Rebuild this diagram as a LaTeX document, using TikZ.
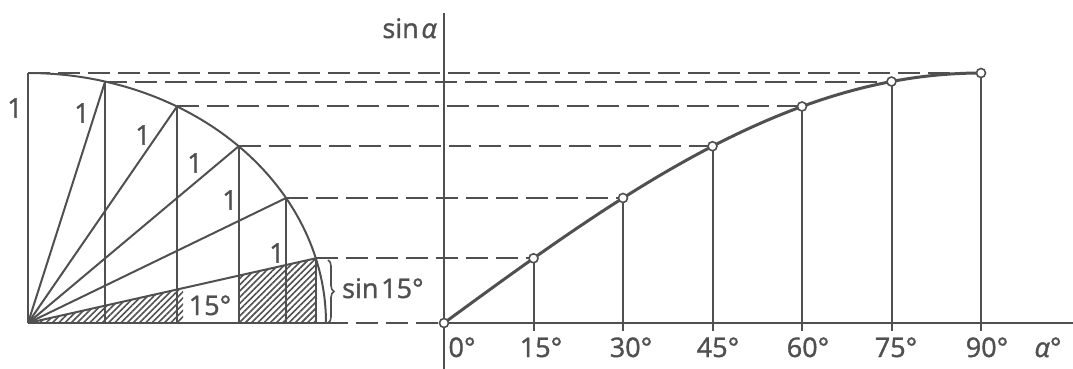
\documentclass[tikz,border=0pt]{standalone}
\usepackage{fontspec}
\setmainfont{Open Sans}
\newfontfamily\lblfont{Open Sans}[FakeBold=1.3]
\usetikzlibrary{patterns.meta,decorations.pathreplacing}
\definecolor{ink}{HTML}{505050}
\begin{document}
\begin{tikzpicture}[x=1pt,y=-1pt,
  ln/.style={draw=ink, line width=2pt},
  dashln/.style={draw=ink, line width=2pt, dash pattern=on 22pt off 8pt},
  curveln/.style={draw=ink, line width=3pt},
  lbl/.style={text=ink, font=\lblfont\fontsize{27}{30}\selectfont, inner sep=0pt},
  dot/.style={circle, draw=ink, fill=white, line width=1.6pt, minimum size=9pt, inner sep=0pt},
  hatch/.style={pattern={Lines[angle=45,distance=4.4pt,line width=1.6pt]}, pattern color=ink}]
\useasboundingbox (0,0) rectangle (1073,369);
% centre of the unit circle
\coordinate (C) at (28,323);
\foreach \i in {0,...,6}{
  \coordinate (L\i) at ({28+298*cos(15*\i)},{323-250*sin(15*\i)});
  \coordinate (F\i) at ({28+298*cos(15*\i)},323);
  \coordinate (R\i) at ({444+89.5*\i},{323-250*sin(15*\i)});
  \coordinate (B\i) at ({444+89.5*\i},331);
}
\coordinate (H1) at (183,288.2);
\coordinate (H2) at (183,323);
\coordinate (H3) at (238,275.8);
\coordinate (H4) at (238,323);
% hatched triangle (sin 15)
\fill[hatch] (C) -- (H1) -- (H2) -- cycle;
\fill[hatch] (H3) -- (L1) -- (F1) -- (H4) -- cycle;
% dashed projection lines
\foreach \i in {0,...,6}{ \draw[dashln] (L\i) -- (R\i); }
% quarter circle
\draw[ln] plot[domain=0:90,samples=60,smooth] ({28+298*cos(\x)},{323-250*sin(\x)});
\draw[ln] (C) -- (L0);
\draw[ln] (C) -- (L6);
\foreach \i in {1,...,5}{
  \draw[ln] (C) -- (L\i);
  \draw[ln] (L\i) -- (F\i);
}
% brace
\draw[draw=ink, line width=1.6pt, decorate, decoration={brace, amplitude=6pt}] (328,260) -- (328,323);
% axes
\coordinate (Atop) at (444,13);
\coordinate (Abot) at (444,369);
\coordinate (Xend) at (1073,323);
\draw[ln] (Atop) -- (Abot);
\draw[ln] (R0) -- (Xend);
\foreach \i in {1,...,6}{ \draw[ln] (R\i) -- (B\i); }
% sine curve
\draw[curveln] plot[domain=0:90,samples=60,smooth] ({444+5.9667*\x},{323-250*sin(\x)});
\foreach \i in {0,...,6}{ \node[dot] (P\i) at (R\i) {}; }
% labels
\node[lbl] (one0) at (15,108) {1};
\node[lbl] (one1) at (82,113) {1};
\node[lbl] (one2) at (143,135) {1};
\node[lbl] (one3) at (195,163) {1};
\node[lbl] (one4) at (230,200) {1};
\node[lbl] (one5) at (277,253) {1};
\node[lbl, anchor=base] (ang) at (210,315) {15°};
\node[lbl, anchor=base west] (s15) at (342,298) {sin\hspace{0.1em}15°};
\node[lbl, anchor=base east] (sa) at (437,38) {sin\hspace{0.1em}\textit{α}};
\node[lbl, anchor=base] (t0) at (462,357) {0°};
\node[lbl, anchor=base] (t1) at (541,357) {15°};
\node[lbl, anchor=base] (t2) at (631,357) {30°};
\node[lbl, anchor=base] (t3) at (718,357) {45°};
\node[lbl, anchor=base] (t4) at (808,357) {60°};
\node[lbl, anchor=base] (t5) at (896,357) {75°};
\node[lbl, anchor=base] (t6) at (987,357) {90°};
\node[lbl, anchor=base] (ta) at (1048,357) {\textit{α}°};
\end{tikzpicture}
\end{document}
